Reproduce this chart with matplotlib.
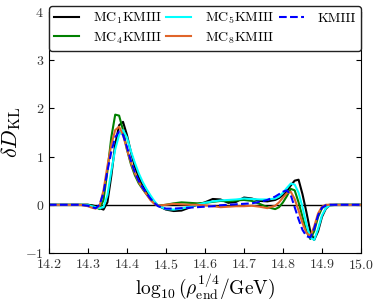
import numpy as np
import matplotlib
matplotlib.use('Agg')
import matplotlib.pyplot as plt

plt.rcParams['font.family'] = 'serif'
plt.rcParams['font.serif'] = ['cmr10', 'DejaVu Serif']
plt.rcParams['mathtext.fontset'] = 'cm'
plt.rcParams['axes.formatter.use_mathtext'] = True

# x grid (log10 rho_end^{1/4} / GeV)
x = [14.20, 14.28, 14.30, 14.31, 14.32, 14.33, 14.34, 14.35, 14.36, 14.37,
     14.38, 14.39, 14.40, 14.41, 14.42, 14.43, 14.44, 14.45, 14.46, 14.47,
     14.48, 14.50, 14.52, 14.54, 14.56, 14.58, 14.60, 14.62, 14.64, 14.66,
     14.68, 14.70, 14.72, 14.74, 14.76, 14.78, 14.79, 14.80, 14.81, 14.82,
     14.83, 14.84, 14.85, 14.86, 14.87, 14.88, 14.89, 14.90, 14.91, 14.92,
     14.94, 15.00]

mc1 = [0, 0, 0, -0.01, -0.03, -0.07, -0.10, 0.05, 0.60, 1.25,
       1.65, 1.72, 1.45, 1.10, 0.80, 0.58, 0.40, 0.27, 0.16, 0.06,
       -0.02, -0.10, -0.13, -0.12, -0.06, 0.0, 0.05, 0.12, 0.11, 0.04,
       0.06, 0.15, 0.13, 0.08, 0.07, 0.10, 0.14, 0.20, 0.28, 0.40,
       0.50, 0.52, 0.22, -0.15, -0.55, -0.73, -0.55, -0.25, -0.08, -0.01,
       0, 0]

mc4 = [0, 0, 0, -0.02, -0.05, -0.09, 0.10, 0.70, 1.40, 1.87,
       1.85, 1.55, 1.15, 0.85, 0.62, 0.45, 0.33, 0.22, 0.12, 0.04,
       -0.02, 0.0, 0.03, 0.05, 0.04, 0.03, 0.04, 0.06, 0.08, 0.07,
       0.09, 0.10, 0.08, 0.02, -0.05, -0.09, -0.05, 0.05, 0.18, 0.33,
       0.30, 0.05, -0.25, -0.55, -0.71, -0.55, -0.25, -0.07, -0.01, 0,
       0, 0]

mc5 = [0, 0, -0.01, -0.03, -0.05, -0.07, -0.05, 0.20, 0.70, 1.15,
       1.45, 1.55, 1.40, 1.12, 0.88, 0.66, 0.48, 0.33, 0.20, 0.08,
       -0.02, -0.09, -0.10, -0.08, -0.04, 0.0, 0.04, 0.07, 0.09, 0.10,
       0.11, 0.13, 0.12, 0.11, 0.11, 0.13, 0.17, 0.25, 0.35, 0.44,
       0.42, 0.25, -0.05, -0.40, -0.68, -0.73, -0.50, -0.22, -0.07, -0.01,
       0, 0]

mc8 = [0, 0, -0.03, -0.06, -0.08, -0.02, 0.30, 0.80, 1.25, 1.55,
       1.62, 1.45, 1.15, 0.88, 0.66, 0.48, 0.34, 0.22, 0.10, 0.02,
       -0.02, 0.0, 0.02, 0.01, 0.0, 0.0, -0.01, -0.03, -0.05, -0.04,
       -0.03, -0.03, -0.02, -0.04, -0.07, -0.02, 0.05, 0.15, 0.24, 0.27,
       0.12, -0.12, -0.38, -0.58, -0.65, -0.45, -0.18, -0.04, 0, 0,
       0, 0]

kmiii = [0, 0, -0.02, -0.05, -0.07, 0.0, 0.25, 0.70, 1.10, 1.40,
         1.52, 1.45, 1.20, 0.92, 0.68, 0.50, 0.36, 0.24, 0.13, 0.04,
         -0.03, -0.08, -0.08, -0.07, -0.06, -0.05, -0.04, -0.03, -0.01, 0.0,
         0.01, 0.02, 0.03, 0.06, 0.10, 0.17, 0.22, 0.27, 0.30, 0.20,
         -0.05, -0.30, -0.52, -0.65, -0.68, -0.50, -0.22, -0.06, -0.01, 0,
         0, 0]

labels = [r'MC$_1$KMIII', r'MC$_4$KMIII', r'MC$_5$KMIII', r'MC$_8$KMIII', 'KMIII']

fig = plt.figure(figsize=(3.79, 3.07), dpi=100)
ax = fig.add_axes([0.129, 0.176, 0.8235, 0.785])

ax.axhline(0, color='k', lw=1)
ax.plot(x, mc1, color='k', lw=1.5, label=labels[0])
ax.plot(x, mc4, color='g', lw=1.5, label=labels[1])
ax.plot(x, mc5, color='cyan', lw=1.5, label=labels[2])
ax.plot(x, mc8, color='#e0652a', lw=1.5, label=labels[3])
ax.plot(x, kmiii, color='b', lw=1.5, ls='--', label=labels[4])

ax.set_xlim(14.2, 15.0)
ax.set_ylim(-1, 4)
ax.set_xticks(np.arange(14.2, 15.01, 0.1))
ax.set_yticks([-1, 0, 1, 2, 3, 4])
ax.tick_params(direction='in', top=True, right=True, labelsize=10, colors='k',
               labelcolor='#333333')
ax.set_xlabel(r'$\log_{10}(\rho_{\rm end}^{1/4}/{\rm GeV})$', fontsize=14, labelpad=0)
ax.set_ylabel(r'$\delta D_{\rm KL}$', fontsize=16, labelpad=2)

ax.legend(loc='upper center', bbox_to_anchor=(0, 0, 1, 1.025), mode='expand',
          ncol=3, fontsize=10, handlelength=1.8, handletextpad=1.0, framealpha=1,
          edgecolor='#222222', borderaxespad=0, borderpad=0.35, labelspacing=0.3)

fig.savefig('out.png', dpi=100)
